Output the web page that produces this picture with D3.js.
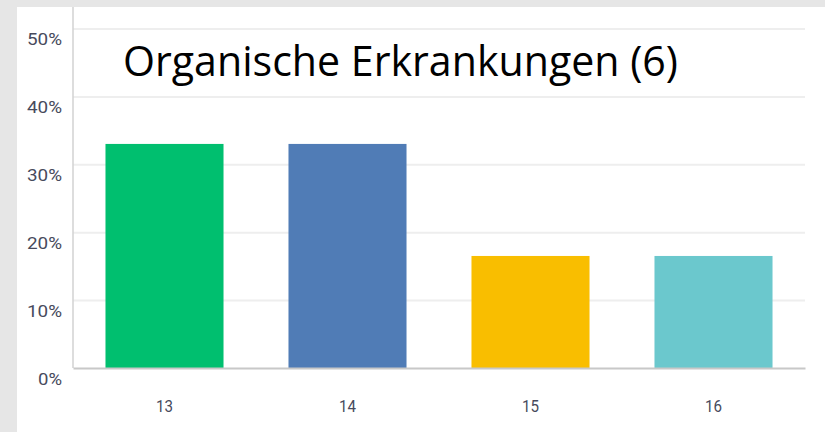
<!DOCTYPE html>
<html>
<head>
<meta charset="utf-8">
<script src="https://cdn.jsdelivr.net/npm/d3@7"></script>
<style>
  body { margin: 0; background: #e6e6e6; }
  svg { display: block; }
</style>
</head>
<body>
<svg id="chart" width="825" height="432"></svg>
<script>
// data
var categories = ["13", "14", "15", "16"];
var values     = [33.0, 33.0, 16.5, 16.5];
var barColors  = ["#00bf6f", "#507cb6", "#f9be00", "#6bc8cd"];
var yTicks     = [0, 10, 20, 30, 40, 50];
var title      = "Organische Erkrankungen (6)";

var svg = d3.select("#chart");

var plot_left = 73, plot_right = 805, plot_top = 28.5, plot_bottom = 368;

// grey frame + white panel
svg.append("rect").attr("width", 825).attr("height", 432).attr("fill", "#e6e6e6");
svg.append("rect").attr("x", 17).attr("y", 7).attr("width", 808).attr("height", 425).attr("fill", "#ffffff");

var x_scale = d3.scaleBand()
                .domain(categories)
                .range([plot_left, plot_right])
                .paddingInner(0.355)
                .paddingOuter(0.1775);
var y_scale = d3.scaleLinear()
                .domain([0, 50])
                .range([plot_bottom, plot_top]);

// y axis with grid lines
var yAxis = svg.append("g")
  .attr("transform", "translate(" + plot_left + ",0)")
  .call(d3.axisLeft(y_scale).tickValues(yTicks).tickFormat(d=>d + "%").tickSize(-(plot_right - plot_left)).tickPadding(11));
yAxis.select(".domain").remove();
yAxis.selectAll(".tick line")
  .attr("stroke", "#eeeeee")
  .attr("stroke-width", 2)
  .filter(d=>d === 0).remove();
yAxis.selectAll(".tick text")
  .attr("dy", null)
  .attr("y", 16)
  .attr("fill", "#474a5c")
  .style("font-family", "Roboto, 'Liberation Sans', sans-serif")
  .style("font-size", "16px")
  .attr("textLength", d=>d === 0 ? 24 : 35)
  .attr("lengthAdjust", "spacingAndGlyphs");

// left axis line
svg.append("line")
  .attr("x1", plot_left).attr("x2", plot_left)
  .attr("y1", 7).attr("y2", plot_bottom)
  .attr("stroke", "#d2d2d2").attr("stroke-width", 1.5);

// bars
svg.selectAll(".bar")
  .data(categories)
  .enter()
  .append("rect")
  .attr("class", "bar")
  .attr("x", d=>x_scale(d))
  .attr("width", x_scale.bandwidth())
  .attr("y", (d, i)=>y_scale(values[i]))
  .attr("height", (d, i)=>y_scale(0) - y_scale(values[i]))
  .attr("fill", (d, i)=>barColors[i]);

// x axis
var xAxis = svg.append("g")
  .attr("transform", "translate(0," + plot_bottom + ")")
  .call(d3.axisBottom(x_scale).tickSize(0).tickPadding(0));
xAxis.select(".domain")
  .attr("stroke", "#c8c8c8")
  .attr("stroke-width", 2);
xAxis.selectAll(".tick text")
  .attr("dy", null)
  .attr("y", 44)
  .attr("fill", "#474a5c")
  .style("font-family", "Roboto, 'Liberation Sans', sans-serif")
  .style("font-size", "17px")
  .attr("textLength", 17)
  .attr("lengthAdjust", "spacingAndGlyphs");

// title
svg.append("text")
  .attr("x", 123)
  .attr("y", 76)
  .attr("fill", "#000000")
  .style("font-family", "'Open Sans', 'Noto Sans', sans-serif")
  .style("font-size", "42px")
  .attr("textLength", 555)
  .attr("lengthAdjust", "spacingAndGlyphs")
  .text(title);
</script>
</body>
</html>
